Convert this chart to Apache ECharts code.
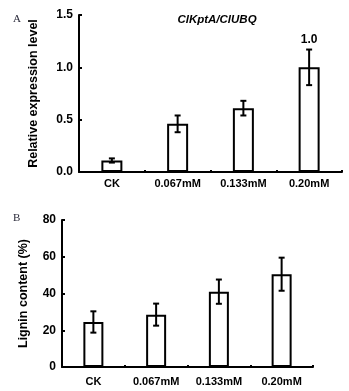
<!DOCTYPE html>
<html>
<head>
<meta charset="utf-8">
<script src="https://cdn.jsdelivr.net/npm/echarts@6/dist/echarts.min.js"></script>
<style>
  html, body { margin:0; padding:0; background:#fff; }
  #chart { width:349px; height:391px; }
</style>
</head>
<body>
<div id="chart"></div>
<script>
// ===== data =====
const categories = ['CK', '0.067mM', '0.133mM', '0.20mM'];

// panel A: relative expression ClKptA/ClUBQ
const exprValues = [0.11, 0.46, 0.61, 1.0];
const exprErrors = [0.02, 0.08, 0.07, 0.17];
const exprNotes  = ['', '', '', '1.0'];
const exprTicks  = [0, 0.5, 1.0, 1.5];

// panel B: lignin content (%)
const ligninValues = [24.5, 28.5, 41, 50.5];
const ligninErrors = [5.8, 6, 6.6, 9];
const ligninTicks  = [0, 20, 40, 60, 80];

const FONT = 'Liberation Sans, Arial, sans-serif';

const chart = echarts.init(document.getElementById('chart'), null, { renderer:'canvas' });

// error bars drawn from value/error arrays through the axis coord system
function errorSeries(idx, values, errors, notes) {
  return {
    type: 'custom',
    xAxisIndex: idx, yAxisIndex: idx,
    z: 5,
    data: values.map((v, i) => [i, v - errors[i], v + errors[i]]),
    renderItem: (params, api) => {
      const lo = api.coord([api.value(0), api.value(1)]);
      const hi = api.coord([api.value(0), api.value(2)]);
      const cap = 3;
      const style = { stroke:'#000', lineWidth:2 };
      const kids = [
        { type:'line', shape:{ x1:hi[0], y1:hi[1], x2:lo[0], y2:lo[1] }, style },
        { type:'line', shape:{ x1:hi[0]-cap, y1:hi[1], x2:hi[0]+cap, y2:hi[1] }, style },
        { type:'line', shape:{ x1:lo[0]-cap, y1:lo[1], x2:lo[0]+cap, y2:lo[1] }, style }
      ];
      const note = notes && notes[params.dataIndex];
      if (note) {
        kids.push({ type:'text', x:hi[0], y:hi[1]-10,
          style:{ text:note, fill:'#000', font:'bold 12px ' + FONT, align:'center', verticalAlign:'middle' } });
      }
      return { type:'group', children:kids };
    }
  };
}

function xAxisFor(idx, margin) {
  return {
    type:'category', gridIndex:idx, data:categories,
    axisLine:{ lineStyle:{ color:'#000', width:2 } },
    axisTick:{ show:true, length:2, inside:true, lineStyle:{ color:'#000', width:2 } },
    axisLabel:{ color:'#000', fontFamily:FONT, fontWeight:'bold', fontSize:11, margin }
  };
}

function yAxisFor(idx, ticks, name, gap) {
  return {
    type:'value', gridIndex:idx,
    min:ticks[0], max:ticks[ticks.length-1], interval:ticks[1]-ticks[0],
    name, nameLocation:'middle', nameGap:gap,
    nameTextStyle:{ color:'#000', fontFamily:FONT, fontWeight:'bold', fontSize:12.5 },
    axisLine:{ show:true, lineStyle:{ color:'#000', width:2 } },
    axisTick:{ show:true, length:3, inside:true, lineStyle:{ color:'#000', width:2 } },
    splitLine:{ show:false },
    axisLabel:{ color:'#000', fontFamily:FONT, fontWeight:'bold', fontSize:12, margin:6,
      formatter: v => idx === 0 ? v.toFixed(1) : String(v) }
  };
}

const option = {
  animation:false,
  backgroundColor:'#fff',
  title:[
    { text:'A', left:8, top:9, textStyle:{ fontFamily:'Liberation Serif, serif', fontWeight:'normal', fontSize:11, color:'#2a2a3a' } },
    { text:'B', left:8, top:208, textStyle:{ fontFamily:'Liberation Serif, serif', fontWeight:'normal', fontSize:11, color:'#2a2a3a' } },
    { text:'ClKptA/ClUBQ', left:212, top:9, textAlign:'center',
      textStyle:{ fontFamily:FONT, fontWeight:'bold', fontStyle:'italic', fontSize:11.5, color:'#000' } }
  ],
  grid:[
    { left:79, right:7, top:15, bottom:219 },
    { left:62, right:36, top:220, bottom:24 }
  ],
  xAxis:[ xAxisFor(0, 6), xAxisFor(1, 9) ],
  yAxis:[
    yAxisFor(0, exprTicks, 'Relative expression level', 39),
    yAxisFor(1, ligninTicks, 'Lignin content (%)', 32)
  ],
  series:[
    { type:'bar', xAxisIndex:0, yAxisIndex:0, data:exprValues, barWidth:21,
      itemStyle:{ color:'#fff', borderColor:'#000', borderWidth:2 } },
    errorSeries(0, exprValues, exprErrors, exprNotes),
    { type:'bar', xAxisIndex:1, yAxisIndex:1, data:ligninValues, barWidth:20,
      itemStyle:{ color:'#fff', borderColor:'#000', borderWidth:2 } },
    errorSeries(1, ligninValues, ligninErrors, null)
  ]
};

chart.setOption(option);
</script>
</body>
</html>
